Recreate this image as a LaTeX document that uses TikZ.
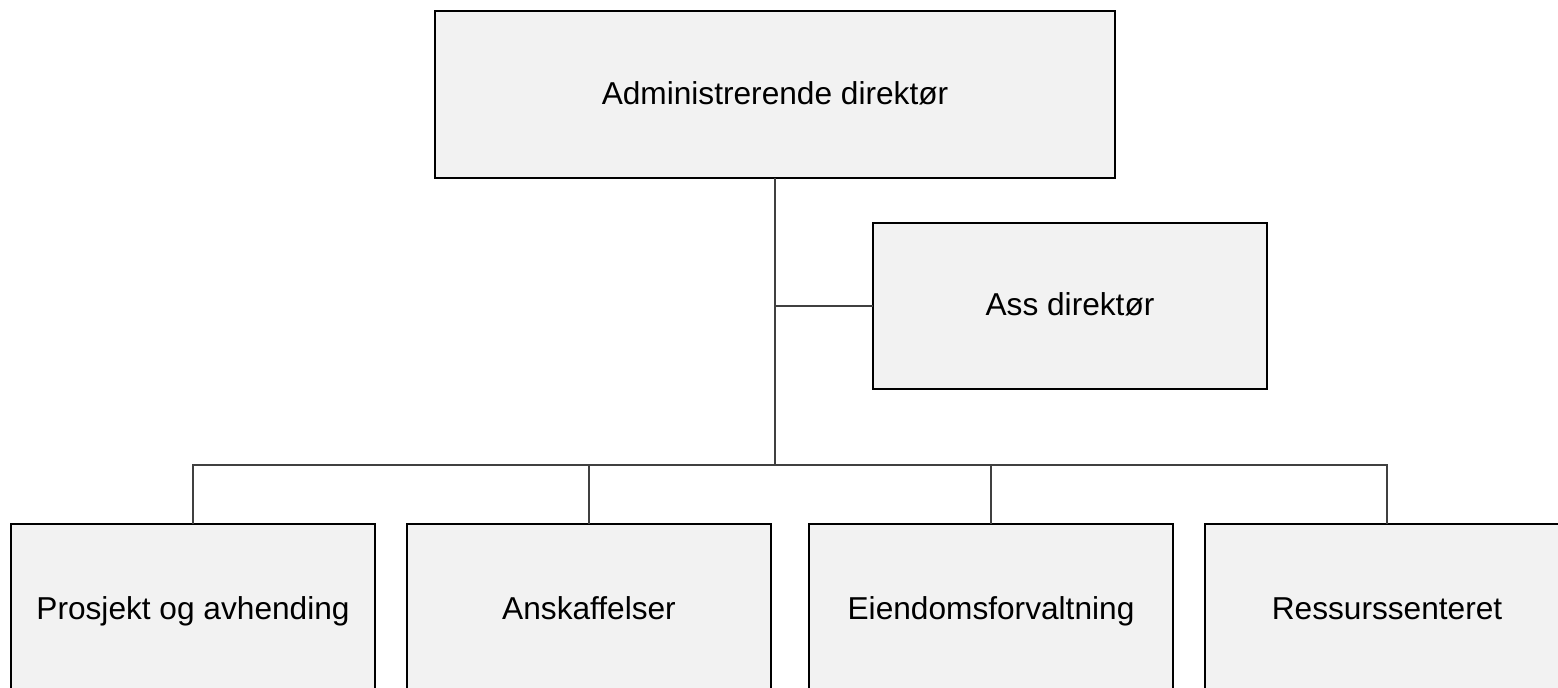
\documentclass[tikz,border=0pt]{standalone}
\usepackage{fontspec}
\setmainfont{Liberation Sans}
\usepackage{xcolor}
\definecolor{boxgray}{HTML}{F2F2F2}

\begin{document}
\begin{tikzpicture}[x=0.01cm,y=-0.01cm,
  unit/.style={draw=black,line width=0.6pt,fill=boxgray,outer sep=0pt,
    inner sep=0pt,text height=0.75em,text depth=0.2em,
    font=\fontsize{9}{11}\selectfont},
  link/.style={draw=black!75,line width=0.3pt}]
  \clip (0,0) rectangle (1558,687);
  \node[unit,minimum width=6.79cm,minimum height=1.67cm] (adm) at (775,94.5) {Administrerende direktør};
  \node[unit,minimum width=3.94cm,minimum height=1.66cm] (ass) at (1070,306) {Ass direktør};
  \node[unit,minimum width=3.64cm,minimum height=1.72cm] (prosj) at (193,610) {Prosjekt og avhending};
  \node[unit,minimum width=3.64cm,minimum height=1.72cm] (anskaff) at (589,610) {Anskaffelser};
  \node[unit,minimum width=3.64cm,minimum height=1.72cm] (eiendom) at (991,610) {Eiendomsforvaltning};
  \node[unit,minimum width=3.64cm,minimum height=1.72cm] (ress) at (1387,610) {Ressurssenteret};
  \coordinate (bus) at (775,465);
  \coordinate (mid) at (adm.south |- ass.west);
  \draw[link] (adm.south) -- (bus);
  \draw[link] (mid) -- (ass.west);
  \draw[link] (prosj.north) |- (bus) -| (ress.north);
  \draw[link] (anskaff.north) -- (anskaff.north |- bus);
  \draw[link] (eiendom.north) -- (eiendom.north |- bus);
\end{tikzpicture}
\end{document}
